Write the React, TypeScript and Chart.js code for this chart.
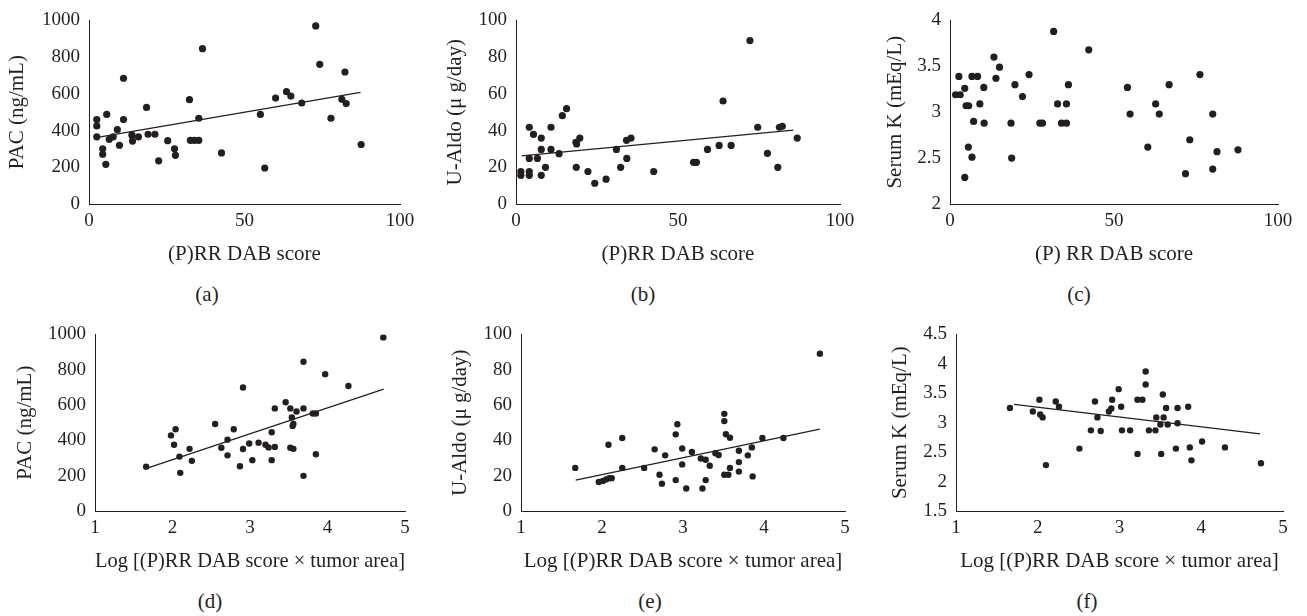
import React, { useEffect, useRef } from "react";
import { Chart, registerables } from "chart.js";

Chart.register(...registerables);

const INK = "#231f20";
const FONT = "'Liberation Serif', 'Times New Roman', serif";

// ---- (a) PAC vs (P)RR DAB score ----
const scoreA = [2.5, 2.5, 2.5, 5.7, 4.4, 4.4, 5.4, 6.5, 7.8, 9.1, 9.8, 11.1, 11.1, 13.8, 14.0, 15.9, 18.5, 19.0, 21.2, 22.4, 25.3, 27.5, 27.8, 32.3, 32.6, 33.9, 35.3, 35.3, 36.5, 42.6, 55.1, 56.5, 60.0, 63.5, 64.9, 68.4, 72.9, 74.2, 77.8, 81.3, 82.3, 82.7, 87.5];
const pacA = [460, 425, 366, 488, 301, 271, 216, 352, 366, 405, 320, 685, 460, 375, 343, 366, 526, 380, 380, 235, 345, 301, 265, 568, 347, 347, 347, 467, 846, 278, 488, 196, 577, 612, 588, 550, 970, 761, 467, 570, 719, 547, 324];
const trendScoreA = [3.2, 87.3];
const trendPacA = [364, 608];

// ---- (b) U-Aldo vs (P)RR DAB score ----
const scoreB = [1.5, 1.5, 4.1, 4.1, 4.1, 4.1, 5.4, 6.6, 7.8, 7.8, 7.8, 9.1, 10.8, 10.8, 13.3, 14.3, 15.6, 18.5, 18.7, 19.7, 18.6, 22.2, 24.3, 27.8, 31.0, 32.3, 34.1, 34.2, 35.5, 42.5, 54.8, 55.7, 59.1, 62.7, 63.9, 66.4, 72.2, 74.6, 77.6, 80.8, 81.3, 82.2, 86.8];
const aldoB = [17.7, 15.6, 41.8, 24.8, 17.7, 15.6, 37.9, 24.8, 35.9, 29.7, 15.6, 20, 41.8, 29.7, 27.4, 48.1, 51.9, 33.6, 32.7, 35.9, 20, 17.7, 11.3, 13.5, 29.7, 20, 34.7, 24.8, 35.9, 17.7, 22.7, 22.7, 29.7, 31.9, 56.1, 31.9, 89, 41.8, 27.6, 20, 41.8, 42.3, 35.9];
const trendScoreB = [1.75, 85.6];
const trendAldoB = [26.2, 40.2];

// ---- (c) Serum K vs (P) RR DAB score ----
const scoreC = [1.7, 3.1, 2.7, 4.5, 4.9, 5.7, 4.5, 5.6, 6.7, 6.7, 7.2, 8.4, 9.1, 10.3, 10.4, 13.4, 14.0, 15.1, 18.6, 18.8, 19.8, 22.1, 24.1, 27.4, 28.2, 31.6, 32.8, 34.0, 35.5, 35.5, 36.1, 42.3, 54.1, 54.9, 60.3, 62.7, 63.8, 66.8, 71.8, 73.1, 76.2, 80.1, 80.1, 81.4, 87.8];
const kC = [3.19, 3.19, 3.39, 3.26, 3.07, 3.07, 2.29, 2.62, 3.39, 2.51, 2.9, 3.39, 3.09, 3.27, 2.88, 3.6, 3.37, 3.49, 2.88, 2.5, 3.3, 3.17, 3.41, 2.88, 2.88, 3.88, 3.09, 2.88, 3.09, 2.88, 3.3, 3.68, 3.27, 2.98, 2.62, 3.09, 2.98, 3.3, 2.33, 2.7, 3.41, 2.98, 2.38, 2.57, 2.59];

// ---- (d) PAC vs Log[(P)RR DAB score x tumor area] ----
const logD = [1.66, 1.98, 2.04, 2.02, 2.09, 2.1, 2.22, 2.25, 2.55, 2.63, 2.71, 2.71, 2.79, 2.87, 2.91, 2.91, 2.99, 3.03, 3.11, 3.2, 3.24, 3.28, 3.28, 3.32, 3.32, 3.46, 3.52, 3.52, 3.54, 3.55, 3.56, 3.56, 3.6, 3.69, 3.69, 3.69, 3.81, 3.85, 3.85, 3.97, 4.27, 4.72];
const pacD = [251, 428, 463, 375, 308, 216, 352, 284, 493, 358, 404, 315, 463, 253, 699, 351, 382, 288, 387, 375, 360, 446, 288, 581, 363, 616, 581, 358, 530, 482, 493, 352, 563, 845, 581, 199, 552, 552, 321, 775, 708, 983];
const trendLogD = [1.645, 4.725];
const trendPacD = [238, 690];

// ---- (e) U-Aldo vs Log[...] ----
const logE = [1.67, 1.96, 2.01, 2.05, 2.09, 2.12, 2.08, 2.25, 2.25, 2.52, 2.65, 2.71, 2.74, 2.78, 2.91, 2.91, 2.93, 2.99, 2.99, 3.04, 3.11, 3.22, 3.24, 3.28, 3.28, 3.33, 3.4, 3.44, 3.51, 3.51, 3.51, 3.53, 3.56, 3.58, 3.58, 3.69, 3.69, 3.69, 3.8, 3.85, 3.86, 3.98, 4.24, 4.69];
const aldoE = [24.4, 16.4, 17.0, 17.9, 18.6, 18.6, 37.5, 41.3, 24.4, 24.4, 34.9, 20.5, 15.5, 31.5, 43.4, 17.5, 49.1, 35.4, 26.4, 12.7, 33.4, 29.7, 12.7, 17.5, 29.0, 25.6, 32.7, 31.7, 55.0, 50.9, 20.5, 43.5, 20.5, 41.5, 24.4, 34.1, 27.7, 22.3, 31.5, 36.0, 19.6, 41.3, 41.3, 89.1];
const trendLogE = [1.675, 4.69];
const trendAldoE = [17.5, 46.3];

// ---- (f) Serum K vs Log[...] ----
const logF = [1.66, 1.94, 2.02, 2.03, 2.06, 2.1, 2.22, 2.26, 2.51, 2.65, 2.7, 2.73, 2.77, 2.87, 2.9, 2.91, 2.99, 3.02, 3.03, 3.13, 3.22, 3.22, 3.28, 3.32, 3.32, 3.36, 3.44, 3.45, 3.51, 3.5, 3.53, 3.54, 3.57, 3.59, 3.69, 3.71, 3.71, 3.84, 3.86, 3.88, 4.01, 4.29, 4.73];
const kF = [3.25, 3.19, 3.39, 3.14, 3.09, 2.28, 3.36, 3.27, 2.56, 2.87, 3.36, 3.09, 2.86, 3.19, 3.24, 3.39, 3.57, 3.27, 2.87, 2.87, 2.47, 3.39, 3.39, 3.87, 3.65, 2.87, 2.87, 3.09, 2.47, 2.97, 3.48, 3.09, 3.25, 2.97, 2.56, 3.25, 2.99, 3.27, 2.58, 2.36, 2.68, 2.58, 2.31];
const trendLogF = [1.71, 4.72];
const trendKF = [3.31, 2.81];

const scoreTitle = "(P)RR DAB score";
const logTitle = "Log [(P)RR DAB score × tumor area]";

type PanelDef = {
  letter: string;
  xs: number[];
  ys: number[];
  tx?: number[];
  ty?: number[];
  xMin: number; xMax: number; xStep: number;
  yMin: number; yMax: number; yStep: number;
  xTitle: string; yTitle: string;
  axisX: number; plotRight: number; plotTop: number; plotBottom: number;
  yTitleX: number; labelX: number; radius: number;
};

const panels: PanelDef[] = [
  { letter: "(a)", xs: scoreA, ys: pacA, tx: trendScoreA, ty: trendPacA, xMin: 0, xMax: 100, xStep: 50, yMin: 0, yMax: 1000, yStep: 200, xTitle: scoreTitle, yTitle: "PAC (ng/mL)", axisX: 89, plotRight: 400, plotTop: 16, plotBottom: 204, yTitleX: 17, labelX: 207, radius: 3.6 },
  { letter: "(b)", xs: scoreB, ys: aldoB, tx: trendScoreB, ty: trendAldoB, xMin: 0, xMax: 100, xStep: 50, yMin: 0, yMax: 100, yStep: 20, xTitle: scoreTitle, yTitle: "U-Aldo (μ g/day)", axisX: 516, plotRight: 840, plotTop: 16, plotBottom: 204, yTitleX: 455, labelX: 643, radius: 3.6 },
  { letter: "(c)", xs: scoreC, ys: kC, xMin: 0, xMax: 100, xStep: 50, yMin: 2, yMax: 4, yStep: 0.5, xTitle: "(P) RR DAB score", yTitle: "Serum K (mEq/L)", axisX: 950, plotRight: 1278, plotTop: 16, plotBottom: 204, yTitleX: 895, labelX: 1079, radius: 3.6 },
  { letter: "(d)", xs: logD, ys: pacD, tx: trendLogD, ty: trendPacD, xMin: 1, xMax: 5, xStep: 1, yMin: 0, yMax: 1000, yStep: 200, xTitle: logTitle, yTitle: "PAC (ng/mL)", axisX: 95, plotRight: 405, plotTop: 330, plotBottom: 511, yTitleX: 25, labelX: 210, radius: 3.2 },
  { letter: "(e)", xs: logE, ys: aldoE, tx: trendLogE, ty: trendAldoE, xMin: 1, xMax: 5, xStep: 1, yMin: 0, yMax: 100, yStep: 20, xTitle: logTitle, yTitle: "U-Aldo (μ g/day)", axisX: 521, plotRight: 845, plotTop: 330, plotBottom: 511, yTitleX: 460, labelX: 650, radius: 3.2 },
  { letter: "(f)", xs: logF, ys: kF, tx: trendLogF, ty: trendKF, xMin: 1, xMax: 5, xStep: 1, yMin: 1.5, yMax: 4.5, yStep: 0.5, xTitle: logTitle, yTitle: "Serum K (mEq/L)", axisX: 956, plotRight: 1283, plotTop: 330, plotBottom: 511, yTitleX: 900, labelX: 1087, radius: 3.2 },
];

const YW = 86; // y-axis box width
const PT = 16; // padding above plot
const PR = 22; // padding right of plot
const XH = 70; // x-axis box height
const TICK_SIZE = 19;
const TITLE_SIZE = 21;

function Panel({ p }: { p: PanelDef }) {
  const ref = useRef<HTMLCanvasElement>(null);
  const width = YW + (p.plotRight - p.axisX) + PR;
  const height = PT + (p.plotBottom - p.plotTop) + XH;

  useEffect(() => {
    if (!ref.current) return;
    const datasets: any[] = [
      {
        data: p.xs.map((x, i) => ({ x, y: p.ys[i] })),
        backgroundColor: INK,
        borderColor: INK,
        borderWidth: 0,
        pointRadius: p.radius,
        pointHoverRadius: p.radius,
      },
    ];
    if (p.tx && p.ty) {
      datasets.push({
        data: p.tx.map((x, i) => ({ x, y: p.ty![i] })),
        showLine: true,
        pointRadius: 0,
        borderColor: INK,
        borderWidth: 1.3,
        fill: false,
      });
    }
    const titleLH = TITLE_SIZE * 1.2;
    const chart = new Chart(ref.current, {
      type: "scatter",
      data: { datasets },
      options: {
        animation: false,
        responsive: false,
        maintainAspectRatio: false,
        events: [],
        layout: { padding: { top: PT, right: PR, left: 0, bottom: 0 } },
        plugins: { legend: { display: false }, tooltip: { enabled: false } },
        scales: {
          x: {
            type: "linear",
            min: p.xMin,
            max: p.xMax,
            grid: { display: false, drawTicks: false },
            border: { display: true, color: INK, width: 1 },
            ticks: {
              stepSize: p.xStep,
              padding: 6,
              color: INK,
              font: { family: FONT, size: TICK_SIZE },
              callback: (v: any) => String(v),
            },
            title: {
              display: true,
              text: p.xTitle,
              color: INK,
              font: { family: FONT, size: TITLE_SIZE },
              padding: { top: 0, bottom: XH - 50 - titleLH / 2 },
            },
            afterFit: (s: any) => { s.height = XH; },
          },
          y: {
            type: "linear",
            min: p.yMin,
            max: p.yMax,
            grid: { display: false, drawTicks: false },
            border: { display: true, color: INK, width: 1 },
            ticks: {
              stepSize: p.yStep,
              padding: 9,
              color: INK,
              font: { family: FONT, size: TICK_SIZE },
              callback: (v: any) => String(v),
            },
            title: {
              display: true,
              text: p.yTitle,
              color: INK,
              font: { family: FONT, size: TITLE_SIZE },
              padding: { top: p.yTitleX - (p.axisX - YW) - titleLH / 2, bottom: 0 },
            },
            afterFit: (s: any) => { s.width = YW; },
          },
        },
      } as any,
    });
    return () => chart.destroy();
  }, []);

  return (
    <>
      <canvas
        ref={ref}
        width={width}
        height={height}
        style={{ position: "absolute", left: p.axisX - YW, top: p.plotTop - PT, width, height }}
      />
      <div
        style={{
          position: "absolute",
          left: p.labelX,
          top: p.plotBottom + 90,
          transform: "translate(-50%, -50%)",
          fontFamily: FONT,
          fontSize: TITLE_SIZE,
          color: INK,
          lineHeight: 1,
        }}
      >
        {p.letter}
      </div>
    </>
  );
}

export default function App() {
  return (
    <div
      style={{
        position: "fixed",
        left: 0,
        top: 0,
        width: 1307,
        height: 616,
        background: "#ffffff",
        overflow: "hidden",
      }}
    >
      {panels.map((p) => (
        <Panel key={p.letter} p={p} />
      ))}
    </div>
  );
}
